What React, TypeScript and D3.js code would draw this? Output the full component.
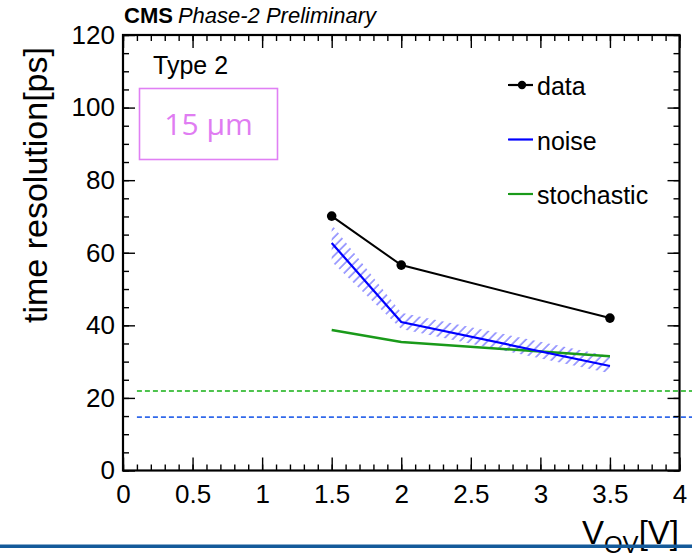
import React, { useEffect, useRef } from 'react';
import * as d3 from 'd3';

// overvoltage points [V]
const vov = [1.5, 2, 3.5];
// measured time resolution [ps]
const dataRes = [70.1, 56.6, 42.0];
// noise term and its band
const noiseRes = [62.7, 40.9, 28.8];
const noiseUp = [67.8, 43.5, 31.5];
const noiseLo = [57.5, 39.0, 26.8];
// stochastic term
const stochRes = [38.7, 35.4, 31.5];
// reference dashed levels
const greenLevel = 21.9;
const blueLevel = 14.7;

const xMajor = [0, 0.5, 1, 1.5, 2, 2.5, 3, 3.5, 4];
const yMajor = [0, 20, 40, 60, 80, 100, 120];

const legendItems = [
  { label: 'data', color: '#000000', marker: true },
  { label: 'noise', color: '#0000ff', marker: false },
  { label: 'stochastic', color: '#1a9a1a', marker: false },
];

const FONT = '"Liberation Sans", Arial, Helvetica, sans-serif';

const App = () => {
  const svgRef = useRef<SVGSVGElement>(null);

  useEffect(() => {
    document.body.style.margin = '0';
    const svg = d3.select(svgRef.current);
    svg.selectAll('*').remove();

    const margin = { left: 123, right: 679.5, top: 35, bottom: 470.5 };

    const x = d3.scaleLinear().domain([0, 4]).range([margin.left, margin.right]);
    const y = d3.scaleLinear().domain([0, 120]).range([margin.bottom, margin.top]);

    // hatch pattern for the noise band
    const defs = svg.append('defs');
    defs.append('pattern')
      .attr('id', 'hatch')
      .attr('patternUnits', 'userSpaceOnUse')
      .attr('width', 6.5)
      .attr('height', 6.5)
      .attr('patternTransform', 'rotate(45)')
      .append('line')
      .attr('x1', 1).attr('y1', 0)
      .attr('x2', 1).attr('y2', 6.5)
      .attr('stroke', '#7070ff')
      .attr('stroke-width', 1.3);

    // dashed reference lines
    const levels = [
      { v: greenLevel, c: '#14b014' },
      { v: blueLevel, c: '#3068ea' },
    ];
    levels.forEach(l => {
      svg.append('line')
        .attr('x1', x(0.1)).attr('x2', x(4.2))
        .attr('y1', y(l.v)).attr('y2', y(l.v))
        .attr('stroke', l.c)
        .attr('stroke-width', 1.6)
        .attr('stroke-dasharray', '5,3');
    });

    const idx = d3.range(vov.length);

    // noise band
    svg.append('path')
      .datum(idx)
      .attr('fill', 'url(#hatch)')
      .attr('d', d3.area<number>()
        .x(i => x(vov[i]))
        .y0(i => y(noiseLo[i]))
        .y1(i => y(noiseUp[i])));

    // stochastic line
    svg.append('path')
      .datum(idx)
      .attr('fill', 'none')
      .attr('stroke', '#1a9a1a')
      .attr('stroke-width', 2.5)
      .attr('d', d3.line<number>().x(i => x(vov[i])).y(i => y(stochRes[i])));

    // noise line
    svg.append('path')
      .datum(idx)
      .attr('fill', 'none')
      .attr('stroke', '#0000ff')
      .attr('stroke-width', 2.2)
      .attr('d', d3.line<number>().x(i => x(vov[i])).y(i => y(noiseRes[i])));

    // data line + markers
    svg.append('path')
      .datum(idx)
      .attr('fill', 'none')
      .attr('stroke', '#000')
      .attr('stroke-width', 2)
      .attr('d', d3.line<number>().x(i => x(vov[i])).y(i => y(dataRes[i])));
    svg.selectAll('.pt')
      .data(idx)
      .enter().append('circle')
      .attr('cx', i => x(vov[i]))
      .attr('cy', i => y(dataRes[i]))
      .attr('r', 4.8)
      .attr('fill', '#000');

    // axes: inward ticks on all four sides
    const xMinor = d3.range(0, 40.5, 1).map(v => v / 10);
    const yMinor = d3.range(0, 121, 5);

    const styleAxis = (g: any) => {
      g.select('.domain').remove();
      g.selectAll('line').attr('stroke', '#000').attr('stroke-width', 1.4);
      g.selectAll('text')
        .attr('fill', '#000')
        .style('font-family', FONT)
        .style('font-size', '26px');
    };

    svg.append('g')
      .attr('transform', `translate(0,${margin.bottom})`)
      .call(d3.axisBottom(x).tickValues(xMinor).tickSize(-6).tickFormat(() => ''))
      .call(styleAxis);
    svg.append('g')
      .attr('transform', `translate(0,${margin.bottom})`)
      .call(d3.axisBottom(x).tickValues(xMajor).tickSize(-13).tickPadding(14)
        .tickFormat(d => d3.format('')(d as number)))
      .call(styleAxis);
    svg.append('g')
      .attr('transform', `translate(0,${margin.top})`)
      .call(d3.axisTop(x).tickValues(xMinor).tickSize(-6).tickFormat(() => ''))
      .call(styleAxis);
    svg.append('g')
      .attr('transform', `translate(0,${margin.top})`)
      .call(d3.axisTop(x).tickValues(xMajor).tickSize(-13).tickFormat(() => ''))
      .call(styleAxis);

    svg.append('g')
      .attr('transform', `translate(${margin.left},0)`)
      .call(d3.axisLeft(y).tickValues(yMinor).tickSize(-6).tickFormat(() => ''))
      .call(styleAxis);
    svg.append('g')
      .attr('transform', `translate(${margin.left},0)`)
      .call(d3.axisLeft(y).tickValues(yMajor).tickSize(-12).tickPadding(8))
      .call(styleAxis);
    svg.append('g')
      .attr('transform', `translate(${margin.right},0)`)
      .call(d3.axisRight(y).tickValues(yMinor).tickSize(-6).tickFormat(() => ''))
      .call(styleAxis);
    svg.append('g')
      .attr('transform', `translate(${margin.right},0)`)
      .call(d3.axisRight(y).tickValues(yMajor).tickSize(-12).tickFormat(() => ''))
      .call(styleAxis);

    // frame
    svg.append('rect')
      .attr('x', margin.left).attr('y', margin.top)
      .attr('width', margin.right - margin.left)
      .attr('height', margin.bottom - margin.top)
      .attr('fill', 'none')
      .attr('stroke', '#000')
      .attr('stroke-width', 2.2);

    // CMS header
    const head = svg.append('text')
      .attr('x', 124).attr('y', 23)
      .style('font-family', FONT)
      .style('font-size', '22px');
    head.append('tspan').attr('font-weight', 'bold').text('CMS');
    head.append('tspan').attr('font-style', 'italic').attr('dx', 5).text('Phase-2 Preliminary');

    svg.append('text')
      .attr('x', 153).attr('y', 74)
      .style('font-family', FONT)
      .style('font-size', '25px')
      .text('Type 2');

    // 15 um box
    svg.append('rect')
      .attr('x', 139.5).attr('y', 88.5)
      .attr('width', 138).attr('height', 71)
      .attr('fill', '#fff')
      .attr('stroke', '#e080f4')
      .attr('stroke-width', 1.6);
    svg.append('text')
      .attr('x', 208.5).attr('y', 135)
      .attr('text-anchor', 'middle')
      .attr('fill', '#e07cf2')
      .style('font-family', '"Open Sans", "DejaVu Sans", sans-serif')
      .style('font-size', '30px')
      .text('15 μm');

    // legend
    const legend = svg.selectAll('.legend')
      .data(legendItems)
      .enter().append('g')
      .attr('class', 'legend')
      .attr('transform', (d, i) => `translate(508,${85 + i * 54.5})`);
    legend.append('line')
      .attr('x1', 0).attr('x2', 25)
      .attr('y1', 0).attr('y2', 0)
      .attr('stroke', d => d.color)
      .attr('stroke-width', 2.2);
    legend.filter(d => d.marker).append('circle')
      .attr('cx', 14).attr('cy', 0).attr('r', 4.2).attr('fill', '#000');
    legend.append('text')
      .attr('x', 29).attr('y', 10)
      .style('font-family', FONT)
      .style('font-size', '25px')
      .attr('fill', '#000')
      .text(d => d.label);

    // axis titles
    svg.append('text')
      .attr('transform', 'translate(47,185) rotate(-90)')
      .attr('text-anchor', 'middle')
      .style('font-family', FONT)
      .style('font-size', '34px')
      .text('time resolution[ps]');

    const xt = svg.append('text')
      .attr('x', 679).attr('y', 544)
      .attr('text-anchor', 'end')
      .style('font-family', FONT)
      .style('font-size', '33px');
    xt.append('tspan').text('V');
    xt.append('tspan').attr('dy', 9).style('font-size', '24px').text('OV');
    xt.append('tspan').attr('dy', -9).text('[V]');

    // bottom slide bar
    svg.append('rect')
      .attr('x', 0).attr('y', 544.5)
      .attr('width', 692).attr('height', 3.5)
      .attr('fill', '#145a9a');
  }, []);

  return <svg ref={svgRef} width={692} height={555} style={{ display: 'block', background: '#fff' }} />;
};

export default App;
